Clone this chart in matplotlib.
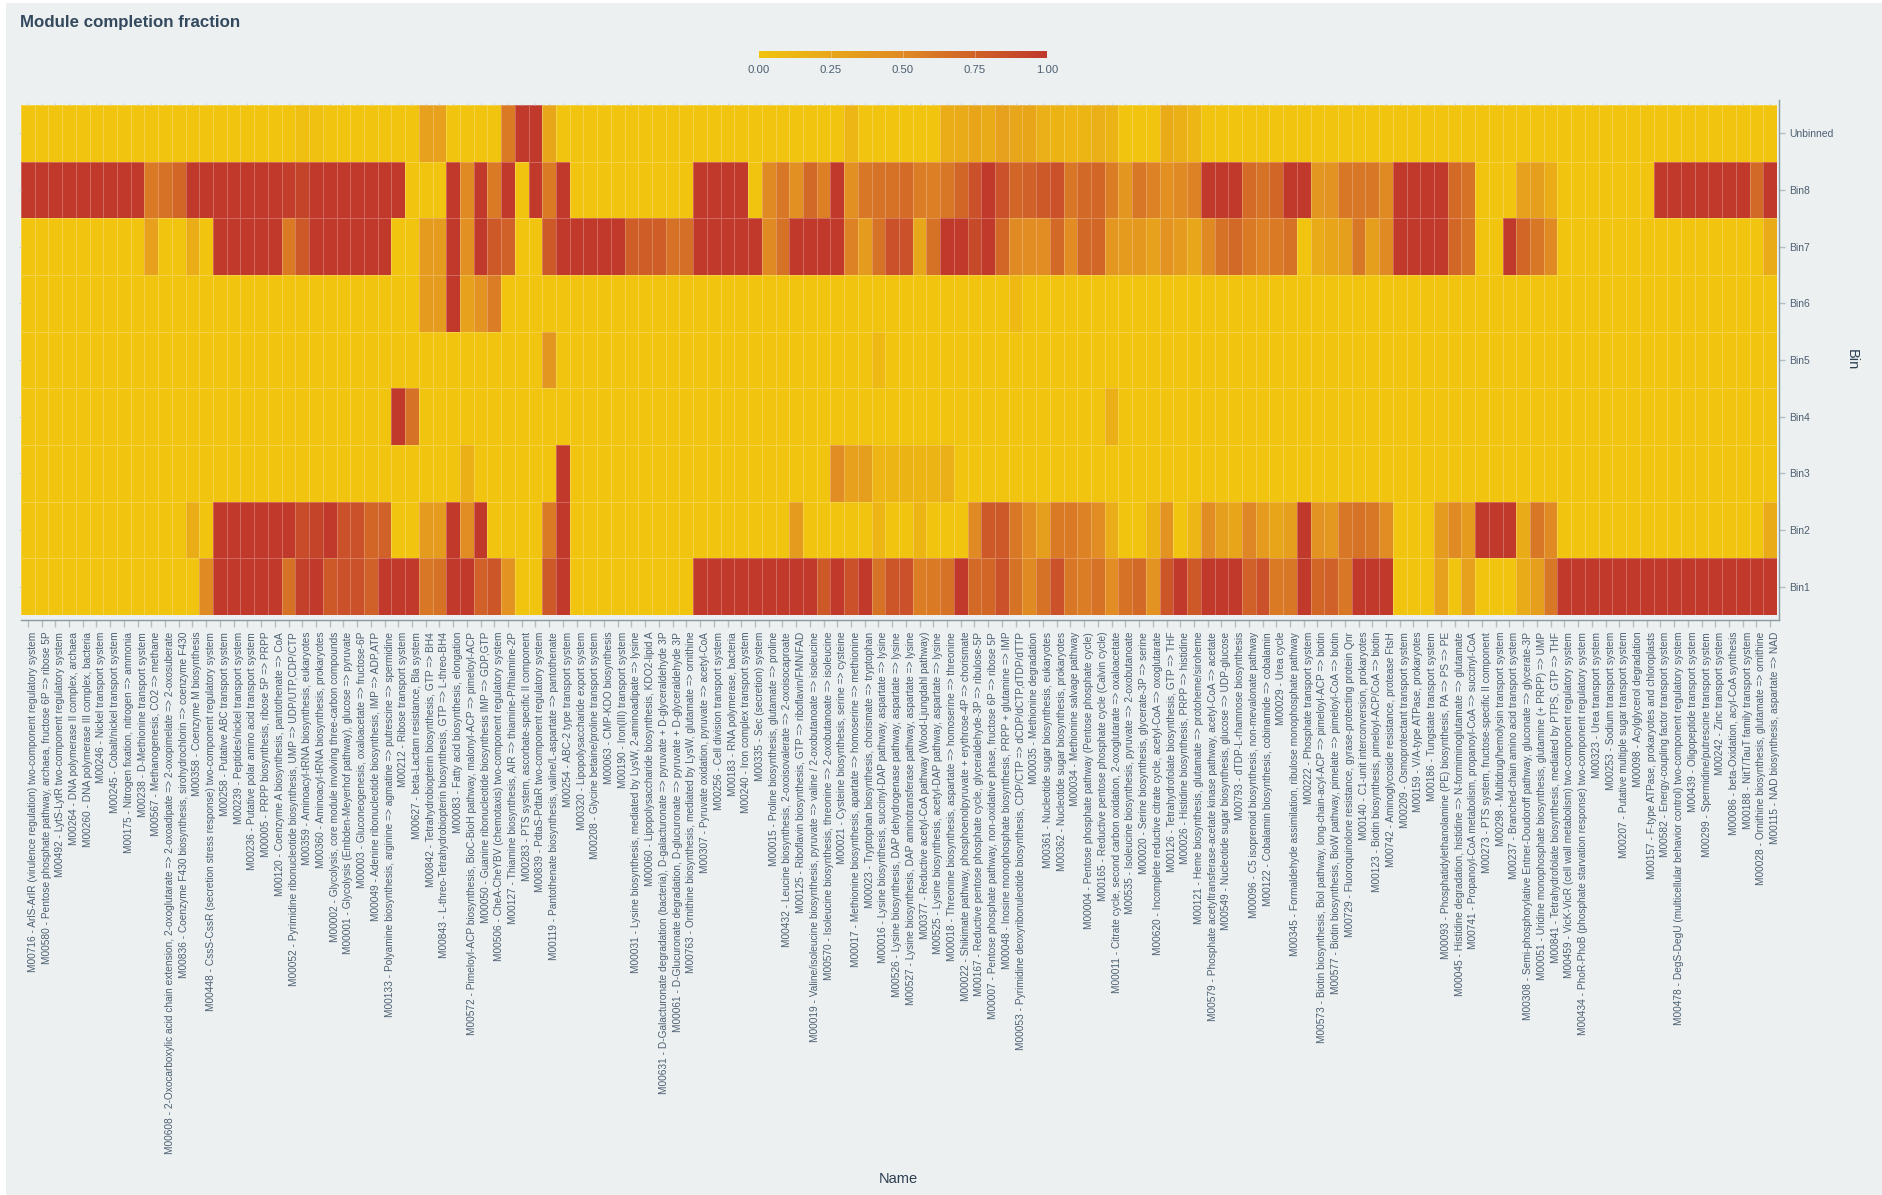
import numpy as np
import matplotlib
matplotlib.use("Agg")
import matplotlib.pyplot as plt
from matplotlib.colors import LinearSegmentedColormap
from matplotlib.patches import Rectangle

plt.rcParams['font.family'] = ['Liberation Sans', 'DejaVu Sans']

names = [
    "M00716 - ArlS-ArlR (virulence regulation) two-component regulatory system",
    "M00580 - Pentose phosphate pathway, archaea, fructose 6P => ribose 5P",
    "M00492 - LytS-LytR two-component regulatory system",
    "M00264 - DNA polymerase II complex, archaea",
    "M00260 - DNA polymerase III complex, bacteria",
    "M00246 - Nickel transport system",
    "M00245 - Cobalt/nickel transport system",
    "M00175 - Nitrogen fixation, nitrogen => ammonia",
    "M00238 - D-Methionine transport system",
    "M00567 - Methanogenesis, CO2 => methane",
    "M00608 - 2-Oxocarboxylic acid chain extension, 2-oxoglutarate => 2-oxoadipate => 2-oxopimelate => 2-oxosuberate",
    "M00836 - Coenzyme F430 biosynthesis, sirohydrochlorin => coenzyme F430",
    "M00358 - Coenzyme M biosynthesis",
    "M00448 - CssS-CssR (secretion stress response) two-component regulatory system",
    "M00258 - Putative ABC transport system",
    "M00239 - Peptides/nickel transport system",
    "M00236 - Putative polar amino acid transport system",
    "M00005 - PRPP biosynthesis, ribose 5P => PRPP",
    "M00120 - Coenzyme A biosynthesis, pantothenate => CoA",
    "M00052 - Pyrimidine ribonucleotide biosynthesis, UMP => UDP/UTP,CDP/CTP",
    "M00359 - Aminoacyl-tRNA biosynthesis, eukaryotes",
    "M00360 - Aminoacyl-tRNA biosynthesis, prokaryotes",
    "M00002 - Glycolysis, core module involving three-carbon compounds",
    "M00001 - Glycolysis (Embden-Meyerhof pathway), glucose => pyruvate",
    "M00003 - Gluconeogenesis, oxaloacetate => fructose-6P",
    "M00049 - Adenine ribonucleotide biosynthesis, IMP => ADP,ATP",
    "M00133 - Polyamine biosynthesis, arginine => agmatine => putrescine => spermidine",
    "M00212 - Ribose transport system",
    "M00627 - beta-Lactam resistance, Bla system",
    "M00842 - Tetrahydrobiopterin biosynthesis, GTP => BH4",
    "M00843 - L-threo-Tetrahydrobiopterin biosynthesis, GTP => L-threo-BH4",
    "M00083 - Fatty acid biosynthesis, elongation",
    "M00572 - Pimeloyl-ACP biosynthesis, BioC-BioH pathway, malonyl-ACP => pimeloyl-ACP",
    "M00050 - Guanine ribonucleotide biosynthesis IMP => GDP,GTP",
    "M00506 - CheA-CheYBV (chemotaxis) two-component regulatory system",
    "M00127 - Thiamine biosynthesis, AIR => thiamine-P/thiamine-2P",
    "M00283 - PTS system, ascorbate-specific II component",
    "M00839 - PdtaS-PdtaR two-component regulatory system",
    "M00119 - Pantothenate biosynthesis, valine/L-aspartate => pantothenate",
    "M00254 - ABC-2 type transport system",
    "M00320 - Lipopolysaccharide export system",
    "M00208 - Glycine betaine/proline transport system",
    "M00063 - CMP-KDO biosynthesis",
    "M00190 - Iron(III) transport system",
    "M00031 - Lysine biosynthesis, mediated by LysW, 2-aminoadipate => lysine",
    "M00060 - Lipopolysaccharide biosynthesis, KDO2-lipid A",
    "M00631 - D-Galacturonate degradation (bacteria), D-galacturonate => pyruvate + D-glyceraldehyde 3P",
    "M00061 - D-Glucuronate degradation, D-glucuronate => pyruvate + D-glyceraldehyde 3P",
    "M00763 - Ornithine biosynthesis, mediated by LysW, glutamate => ornithine",
    "M00307 - Pyruvate oxidation, pyruvate => acetyl-CoA",
    "M00256 - Cell division transport system",
    "M00183 - RNA polymerase, bacteria",
    "M00240 - Iron complex transport system",
    "M00335 - Sec (secretion) system",
    "M00015 - Proline biosynthesis, glutamate => proline",
    "M00432 - Leucine biosynthesis, 2-oxoisovalerate => 2-oxoisocaproate",
    "M00125 - Riboflavin biosynthesis, GTP => riboflavin/FMN/FAD",
    "M00019 - Valine/isoleucine biosynthesis, pyruvate => valine / 2-oxobutanoate => isoleucine",
    "M00570 - Isoleucine biosynthesis, threonine => 2-oxobutanoate => isoleucine",
    "M00021 - Cysteine biosynthesis, serine => cysteine",
    "M00017 - Methionine biosynthesis, apartate => homoserine => methionine",
    "M00023 - Tryptophan biosynthesis, chorismate => tryptophan",
    "M00016 - Lysine biosynthesis, succinyl-DAP pathway, aspartate => lysine",
    "M00526 - Lysine biosynthesis, DAP dehydrogenase pathway, aspartate => lysine",
    "M00527 - Lysine biosynthesis, DAP aminotransferase pathway, aspartate => lysine",
    "M00377 - Reductive acetyl-CoA pathway (Wood-Ljungdahl pathway)",
    "M00525 - Lysine biosynthesis, acetyl-DAP pathway, aspartate => lysine",
    "M00018 - Threonine biosynthesis, aspartate => homoserine => threonine",
    "M00022 - Shikimate pathway, phosphoenolpyruvate + erythrose-4P => chorismate",
    "M00167 - Reductive pentose phosphate cycle, glyceraldehyde-3P => ribulose-5P",
    "M00007 - Pentose phosphate pathway, non-oxidative phase, fructose 6P => ribose 5P",
    "M00048 - Inosine monophosphate biosynthesis, PRPP + glutamine => IMP",
    "M00053 - Pyrimidine deoxyribonuleotide biosynthesis, CDP/CTP => dCDP/dCTP,dTDP/dTTP",
    "M00035 - Methionine degradation",
    "M00361 - Nucleotide sugar biosynthesis, eukaryotes",
    "M00362 - Nucleotide sugar biosynthesis, prokaryotes",
    "M00034 - Methionine salvage pathway",
    "M00004 - Pentose phosphate pathway (Pentose phosphate cycle)",
    "M00165 - Reductive pentose phosphate cycle (Calvin cycle)",
    "M00011 - Citrate cycle, second carbon oxidation, 2-oxoglutarate => oxaloacetate",
    "M00535 - Isoleucine biosynthesis, pyruvate => 2-oxobutanoate",
    "M00020 - Serine biosynthesis, glycerate-3P => serine",
    "M00620 - Incomplete reductive citrate cycle, acetyl-CoA => oxoglutarate",
    "M00126 - Tetrahydrofolate biosynthesis, GTP => THF",
    "M00026 - Histidine biosynthesis, PRPP => histidine",
    "M00121 - Heme biosynthesis, glutamate => protoheme/siroheme",
    "M00579 - Phosphate acetyltransferase-acetate kinase pathway, acetyl-CoA => acetate",
    "M00549 - Nucleotide sugar biosynthesis, glucose => UDP-glucose",
    "M00793 - dTDP-L-rhamnose biosynthesis",
    "M00096 - C5 isoprenoid biosynthesis, non-mevalonate pathway",
    "M00122 - Cobalamin biosynthesis, cobinamide => cobalamin",
    "M00029 - Urea cycle",
    "M00345 - Formaldehyde assimilation, ribulose monophosphate pathway",
    "M00222 - Phosphate transport system",
    "M00573 - Biotin biosynthesis, BioI pathway, long-chain-acyl-ACP => pimeloyl-ACP => biotin",
    "M00577 - Biotin biosynthesis, BioW pathway, pimelate => pimeloyl-CoA => biotin",
    "M00729 - Fluoroquinolone resistance, gyrase-protecting protein Qnr",
    "M00140 - C1-unit interconversion, prokaryotes",
    "M00123 - Biotin biosynthesis, pimeloyl-ACP/CoA => biotin",
    "M00742 - Aminoglycoside resistance, protease FtsH",
    "M00209 - Osmoprotectant transport system",
    "M00159 - V/A-type ATPase, prokaryotes",
    "M00186 - Tungstate transport system",
    "M00093 - Phosphatidylethanolamine (PE) biosynthesis, PA => PS => PE",
    "M00045 - Histidine degradation, histidine => N-formiminoglutamate => glutamate",
    "M00741 - Propanoyl-CoA metabolism, propanoyl-CoA => succinyl-CoA",
    "M00273 - PTS system, fructose-specific II component",
    "M00298 - Multidrug/hemolysin transport system",
    "M00237 - Branched-chain amino acid transport system",
    "M00308 - Semi-phosphorylative Entner-Doudoroff pathway, gluconate => glycerate-3P",
    "M00051 - Uridine monophosphate biosynthesis, glutamine (+ PRPP) => UMP",
    "M00841 - Tetrahydrofolate biosynthesis, mediated by PTPS, GTP => THF",
    "M00459 - VicK-VicR (cell wall metabolism) two-component regulatory system",
    "M00434 - PhoR-PhoB (phosphate starvation response) two-component regulatory system",
    "M00323 - Urea transport system",
    "M00253 - Sodium transport system",
    "M00207 - Putative multiple sugar transport system",
    "M00098 - Acylglycerol degradation",
    "M00157 - F-type ATPase, prokaryotes and chloroplasts",
    "M00582 - Energy-coupling factor transport system",
    "M00478 - DegS-DegU (multicellular behavior control) two-component regulatory system",
    "M00439 - Oligopeptide transport system",
    "M00299 - Spermidine/putrescine transport system",
    "M00242 - Zinc transport system",
    "M00086 - beta-Oxidation, acyl-CoA synthesis",
    "M00188 - NitT/TauT family transport system",
    "M00028 - Ornithine biosynthesis, glutamate => ornithine",
    "M00115 - NAD biosynthesis, aspartate => NAD",
]

bins = ["Unbinned", "Bin8", "Bin7", "Bin6", "Bin5", "Bin4", "Bin3", "Bin2", "Bin1"]

# values, ten columns per line
unbinned = [
    0, 0, 0, 0, 0, 0, 0, 0, 0, 0,
    0, 0, 0, 0, 0, 0, 0, 0, 0, 0,
    .05, .03, 0, 0, 0, 0, 0, 0, 0, .3,
    .3, 0, 0, 0, 0, .6, 1, 1, .25, 0,
    0, 0, 0, 0, 0, 0, 0, 0, 0, 0,
    0, 0, 0, 0, 0, 0, 0, 0, 0, 0,
    .12, 0, 0, 0, 0, 0, 0, .2, .22, .27,
    .22, .3, .25, .27, .18, .15, .12, .13, .18, .15,
    0, 0, 0, .22, .17, .12, 0, 0, 0, 0,
    0, 0, 0, 0, 0, 0, 0, 0, 0, 0,
    0, 0, 0, 0, 0, 0, 0, 0, 0, 0,
    0, 0, 0, 0, 0, 0, 0, 0, 0, 0,
    0, 0, 0, 0, 0, 0, 0, 0,
]
bin8 = [
    1, 1, 1, 1, 1, 1, 1, 1, 1, .6,
    .65, .72, 1, 1, 1, 1, 1, 1, 1, .97,
    .93, 1, 1, 1, 1, 1, 1, 1, 0, 0,
    0, 1, .5, 1, .6, 1, 0, 1, .6, 1,
    0, 0, 0, 0, 0, 0, 0, 0, 0, 1,
    1, 1, 1, 0, .5, .62, .45, .7, .57, 1,
    .45, .62, .65, .65, .68, .58, .57, .62, .72, .85,
    1, .85, .72, .75, .8, .85, .62, .7, .72, .58,
    .4, .62, .55, .45, .5, .55, 1, 1, 1, .68,
    .65, .72, 1, 1, .4, .42, .62, .62, .62, .5,
    1, 1, 1, 1, .7, .65, 0, 0, 0, .3,
    .33, .2, 0, 0, 0, 0, 0, 0, 0, 1,
    1, 1, 1, 1, 1, 1, .7, 1,
]
bin7 = [
    0, 0, 0, 0, 0, 0, 0, 0, 0, .3,
    0, 0, .2, 0, 1, 1, 1, 1, 1, .6,
    .8, 1, 1, 1, 1, 1, 1, 0, 0, .35,
    .35, 1, .45, 1, .8, .75, 0, 0, .8, 1,
    1, 1, 1, 1, .78, .78, .78, .65, .67, 1,
    1, 1, 1, 1, .5, .65, 1, 1, 1, 1,
    .55, .35, .65, .85, .85, .25, .65, 1, 1, .9,
    1, .72, .5, .47, .47, .7, .47, .7, .72, .4,
    .35, .37, .3, .42, .35, .25, .5, .65, .7, .6,
    .55, .6, .65, 0, .22, .27, .33, .62, .33, .5,
    1, 1, 1, 1, .72, .65, 0, 0, 1, .72,
    .62, .5, 0, 0, 0, 0, 0, 0, 0, 0,
    0, 0, 0, 0, 0, 0, 0, .22,
]
bin6 = [
    0, 0, 0, 0, 0, 0, 0, 0, 0, 0,
    0, 0, 0, 0, 0, 0, 0, 0, 0, 0,
    0, 0, 0, 0, 0, 0, 0, 0, 0, .35,
    .35, 1, .3, .42, .58, 0, 0, 0, 0, 0,
    0, 0, 0, 0, 0, 0, 0, 0, 0, 0,
    0, 0, 0, 0, 0, 0, 0, 0, 0, 0,
    0, 0, 0, 0, 0, 0, 0, 0, 0, 0,
    0, 0, .1, 0, 0, 0, 0, 0, 0, 0,
    0, 0, 0, 0, 0, 0, 0, 0, 0, 0,
    0, 0, 0, 0, 0, 0, 0, 0, 0, 0,
    0, 0, 0, 0, 0, 0, 0, 0, 0, 0,
    0, 0, 0, 0, 0, 0, 0, 0, 0, 0,
    0, 0, 0, 0, 0, 0, 0, 0,
]
bin5 = [
    0, 0, 0, 0, 0, 0, 0, 0, 0, 0,
    0, 0, 0, 0, 0, 0, 0, 0, 0, 0,
    0, 0, 0, 0, 0, 0, 0, 0, 0, 0,
    0, 0, 0, 0, 0, 0, 0, 0, .4, 0,
    0, 0, 0, 0, 0, 0, 0, 0, 0, 0,
    0, 0, 0, 0, 0, 0, 0, 0, 0, 0,
    0, 0, .1, 0, 0, 0, 0, 0, 0, 0,
    0, 0, 0, 0, 0, 0, 0, 0, 0, 0,
    0, 0, 0, 0, 0, 0, 0, 0, 0, 0,
    0, 0, 0, 0, 0, 0, 0, 0, 0, 0,
    0, 0, 0, 0, 0, 0, 0, 0, 0, 0,
    0, 0, 0, 0, 0, 0, 0, 0, 0, 0,
    0, 0, 0, 0, 0, 0, 0, 0,
]
bin4 = [
    0, 0, 0, 0, 0, 0, 0, 0, 0, 0,
    0, 0, 0, 0, 0, 0, 0, 0, 0, 0,
    0, 0, 0, 0, 0, 0, 0, 1, .65, 0,
    0, 0, 0, 0, 0, 0, 0, 0, 0, 0,
    0, 0, 0, 0, 0, 0, 0, 0, 0, 0,
    0, 0, 0, 0, 0, 0, 0, 0, 0, 0,
    0, 0, 0, 0, 0, 0, 0, 0, 0, 0,
    0, 0, 0, 0, 0, 0, 0, 0, 0, .18,
    0, 0, 0, 0, 0, 0, 0, 0, 0, 0,
    0, 0, 0, 0, 0, 0, 0, 0, 0, 0,
    0, 0, 0, 0, 0, 0, 0, 0, 0, 0,
    0, 0, 0, 0, 0, 0, 0, 0, 0, 0,
    0, 0, 0, 0, 0, 0, 0, 0,
]
bin3 = [
    0, 0, 0, 0, 0, 0, 0, 0, 0, 0,
    0, 0, 0, 0, 0, 0, 0, 0, 0, 0,
    0, 0, 0, 0, 0, 0, 0, 0, 0, 0,
    0, 0, .17, 0, 0, 0, 0, 0, 0, 1,
    0, 0, 0, 0, 0, 0, 0, 0, 0, 0,
    0, 0, 0, 0, 0, 0, 0, 0, 0, .48,
    .3, .33, .12, .13, .15, .13, .14, .18, 0, 0,
    0, 0, 0, 0, 0, 0, 0, 0, 0, 0,
    0, 0, 0, 0, 0, 0, 0, 0, 0, 0,
    0, 0, 0, 0, 0, 0, 0, 0, 0, 0,
    0, 0, 0, 0, 0, 0, 0, 0, 0, 0,
    0, 0, 0, 0, 0, 0, 0, 0, 0, 0,
    0, 0, 0, 0, 0, 0, 0, 0,
]
bin2 = [
    0, 0, 0, 0, 0, 0, 0, 0, 0, 0,
    0, 0, .2, 0, 1, 1, 1, 1, 1, 1,
    .88, .93, 1, .85, .85, .72, .75, 0, 0, .35,
    .35, 1, .47, 1, 0, 0, 0, 0, .6, 1,
    0, 0, 0, 0, 0, 0, 0, 0, 0, 0,
    0, 0, 0, 0, 0, 0, .35, 0, 0, 0,
    0, 0, .12, 0, 0, .13, 0, 0, 0, .5,
    .8, .8, .62, .47, .33, .6, .6, .55, .47, .2,
    0, 0, .15, .42, 0, .12, .47, .33, .27, .52,
    .35, .27, .33, 1, .42, .38, .62, .65, .62, .47,
    0, 0, 0, .35, .5, .35, 1, 1, 1, .22,
    .62, .5, 0, 0, 0, 0, 0, 0, 0, 0,
    0, 0, 0, 0, 0, 0, 0, .22,
]
bin1 = [
    0, 0, 0, 0, 0, 0, 0, 0, 0, 0,
    0, 0, 0, .5, 1, 1, 1, 1, 1, .65,
    .95, 1, .8, .85, .85, .75, 1, 1, 1, .62,
    .65, 1, 1, .75, .82, .42, 0, 0, .8, 1,
    0, 0, 0, 0, 0, 0, 0, 0, 0, 1,
    1, 1, 1, 1, 1, 1, 1, 1, .8, 1,
    .85, 1, .65, .82, .85, .58, .6, .65, 1, .7,
    .72, .85, .65, .5, .65, .85, .62, .58, .65, .47,
    .65, .7, .42, .82, 1, .8, 1, 1, 1, .75,
    .85, .6, .62, 1, .72, .75, .62, 1, 1, 1,
    0, 0, 0, .3, 0, .3, 0, 0, 0, .22,
    .32, .62, 1, 1, 1, 1, 1, 1, 1, 1,
    1, 1, 1, 1, 1, 1, 1, 1,
]

W, H = 1883, 1195
BG = "#ecf0f1"
TXT = "#2c3e50"
LBL = "#4d5f71"

cmap = LinearSegmentedColormap.from_list("completion", ["#f1c40f", "#e08a24", "#c0392b"])

fig = plt.figure(figsize=(W / 100, H / 100), dpi=100, facecolor="white")
# white strip on the left and top edge
fig.add_artist(Rectangle((6 / W, 0), 1 - 6 / W, 1 - 3.3 / H, transform=fig.transFigure,
                         facecolor=BG, edgecolor="none", zorder=-1))


def px_axes(x0, y0, x1, y1):
    return fig.add_axes([x0 / W, 1 - y1 / H, (x1 - x0) / W, (y1 - y0) / H])


ax = px_axes(21, 105, 1777, 615)
data = np.array([unbinned, bin8, bin7, bin6, bin5, bin4, bin3, bin2, bin1])
ax.pcolormesh(data, cmap=cmap, vmin=0, vmax=1, edgecolors=(1, 1, 1, 0.24), linewidth=0.7)
ax.set_ylim(len(bins), 0)
ax.set_xlim(0, len(names))
for s in ax.spines.values():
    s.set_visible(False)
ax.set_xticks(np.arange(len(names)) + 0.5)
ax.set_yticks(np.arange(len(bins)) + 0.5)
ax.tick_params(axis="both", bottom=False, top=True, left=True, labelbottom=False, labelleft=False,
               length=1.5, width=0.8, color="#c9d2d5")

# separate frame for the axis lines, offset from the cells
frame = px_axes(21, 100, 1778.5, 620)
frame.patch.set_alpha(0)
frame.set_xlim(0, len(names) * 1757.5 / 1756)
frame.set_ylim(len(bins) + 5 / 56.7, -5 / 56.7)
for s in ["top", "left"]:
    frame.spines[s].set_visible(False)
for s in ["bottom", "right"]:
    frame.spines[s].set_color("#8b9aa0")
    frame.spines[s].set_linewidth(1.0)
frame.yaxis.tick_right()
frame.set_yticks(np.arange(len(bins)) + 0.5)
frame.set_yticklabels(bins, fontsize=7.5, color=LBL)
frame.tick_params(axis="y", length=4.5, width=1, color="#b3bfc2", pad=3.5)
frame.set_xticks(np.arange(len(names)) + 0.5)
frame.set_xticklabels(names, rotation=90, fontsize=7.34, color=LBL, ha="left", va="top")
frame.tick_params(axis="x", length=5, width=1, color="#b3bfc2", pad=3.5)

fig.text(20 / W, 1 - 22 / H, "Module completion fraction", fontsize=12.15, fontweight="bold",
         color="#34495e", ha="left", va="center")
fig.text(898 / W, 1 - 1179 / H, "Name", fontsize=10.5, color=TXT, ha="center", va="center")
fig.text(1852 / W, 1 - 360 / H, "Bin", fontsize=10.5, color=TXT, rotation=270, ha="center", va="center")

# colour bar at the top
cax = px_axes(759, 51, 1047, 58)
grad = np.linspace(0, 1, 256).reshape(1, -1)
cax.imshow(grad, cmap=cmap, aspect="auto", extent=[0, 1, 0, 1], vmin=0, vmax=1)
for s in cax.spines.values():
    s.set_visible(False)
cax.set_yticks([])
cax.set_xticks([0, .25, .5, .75, 1])
cax.set_xticklabels(["0.00", "0.25", "0.50", "0.75", "1.00"], fontsize=8.2, color=LBL)
cax.tick_params(axis="x", length=0, pad=5)
for v in [.25, .5, .75]:
    cax.axvline(v, color="white", lw=0.7, alpha=0.3)

fig.savefig("out.png", dpi=100, facecolor="white")
